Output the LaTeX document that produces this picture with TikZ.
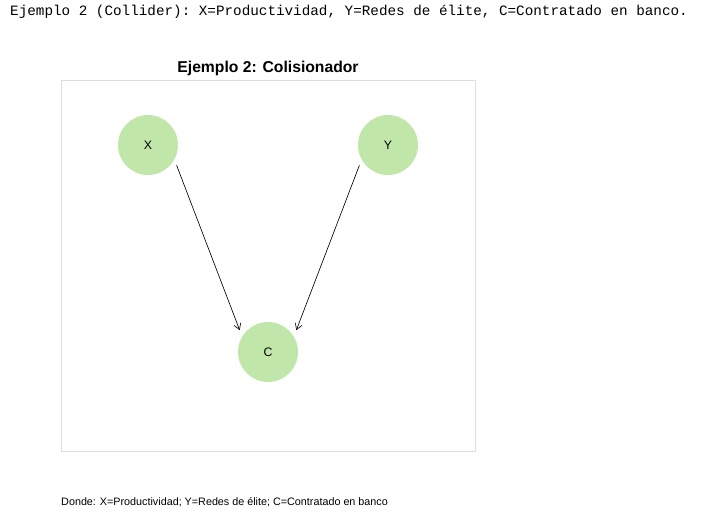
\documentclass[tikz,border=0pt]{standalone}
\usepackage{fontspec}
\setmainfont{Liberation Sans}
\setmonofont{Liberation Mono}
\usetikzlibrary{arrows.meta}
\definecolor{nodegreen}{RGB}{193,230,170}
\definecolor{framegray}{RGB}{222,222,222}

\begin{document}
\begin{tikzpicture}[
  x=0.03cm, y=-0.03cm,
  var/.style={circle,fill=nodegreen,minimum size=1.8cm,inner sep=0pt,
    font=\fontsize{10.5}{12}\selectfont},
  edge/.style={-{Straight Barb[length=5pt,width=6pt]},line width=0.55pt,
    shorten <=0.18cm,shorten >=0.2cm}
]
\useasboundingbox (0,0) rectangle (709,523);

% ------------------------------------------------------------
% Header line and panel
% ------------------------------------------------------------
\node[anchor=west,inner sep=0pt,font=\ttfamily\fontsize{12.2}{14}\selectfont]
  (header) at (10,12)
  {Ejemplo 2 (Collider): X=Productividad, Y=Redes de élite, C=Contratado en banco.};

\draw[framegray] (61,80) rectangle (475,451);
\node[font=\bfseries\fontsize{13.4}{16}\selectfont] (title) at (268,68)
  {Ejemplo 2: Colisionador};

% ------------------------------------------------------------
% Collider X -> C <- Y
% ------------------------------------------------------------
\node[var] (x) at (148,145) {X};
\node[var] (y) at (388,145) {Y};
\node[var] (c) at (268,352) {C};

\draw[edge] (x.-29) -- (c.149);
\draw[edge] (y.-151) -- (c.31);

\node[anchor=west,inner sep=0pt,font=\fontsize{9.2}{11}\selectfont]
  (caption) at (61,502)
  {Donde: X=Productividad; Y=Redes de élite; C=Contratado en banco};

\end{tikzpicture}
\end{document}
